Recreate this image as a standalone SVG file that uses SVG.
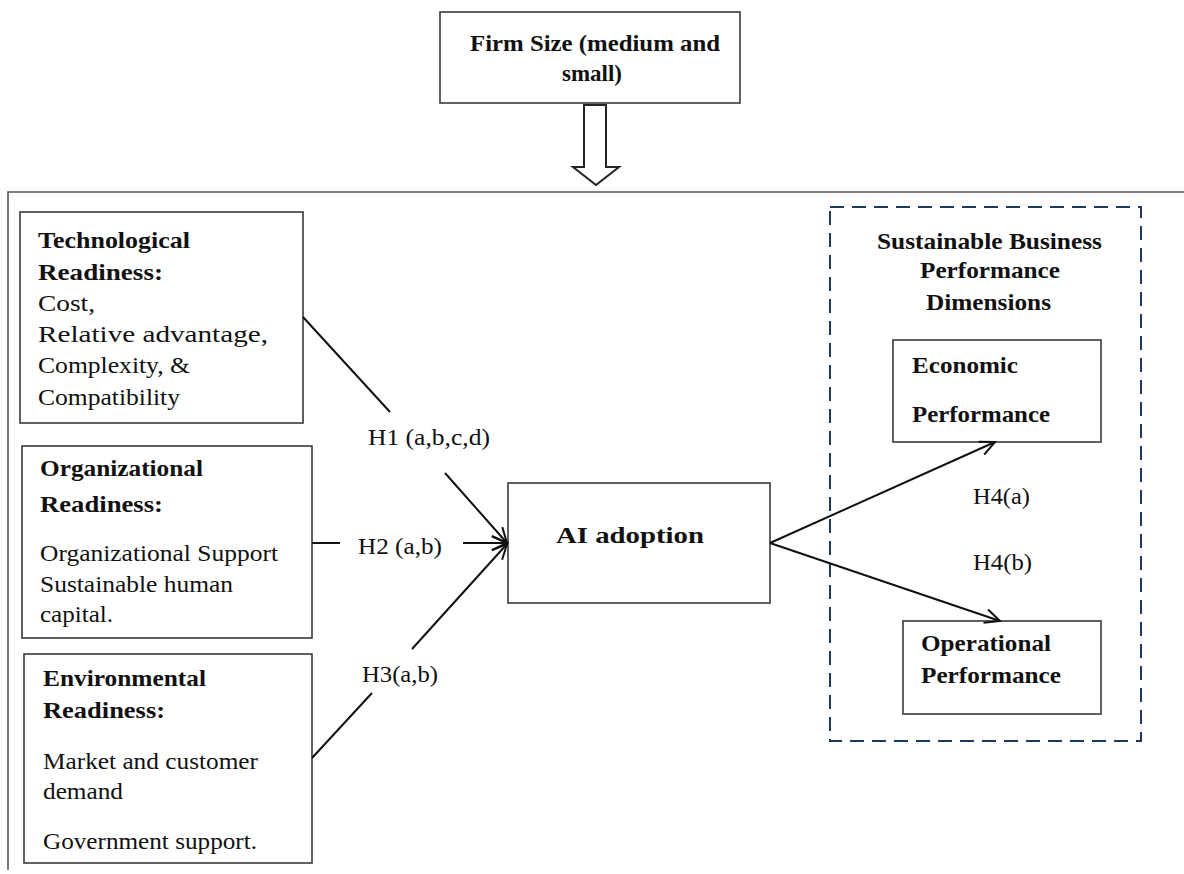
<svg xmlns="http://www.w3.org/2000/svg" width="1184" height="874" viewBox="0 0 1184 874">
<defs>
<style>
.box{fill:#fff;stroke:#3a3a3a;stroke-width:1.6}
.t{font-family:"Liberation Serif","Times New Roman",serif;font-size:23px;fill:#111}
.b{font-weight:bold}
.ln{stroke:#111;stroke-width:2;fill:none}
</style>
<marker id="arr" markerUnits="userSpaceOnUse" markerWidth="20" markerHeight="20" refX="16" refY="8" orient="auto">
<path d="M1,1 L16,8 L1,15" fill="none" stroke="#111" stroke-width="2"/>
</marker>
</defs>
<rect width="1184" height="874" fill="#fff"/>
<g id="frame">
<path d="M8,870 L8,192 L1184,192" fill="none" stroke="#555" stroke-width="1.6"/>
</g>
<g id="firm-size">
<rect class="box" x="440" y="12" width="300" height="91"/>
<text class="t b" x="470" y="51" textLength="250" lengthAdjust="spacingAndGlyphs">Firm Size (medium and</text>
<text class="t b" x="562" y="81" textLength="60" lengthAdjust="spacingAndGlyphs">small)</text>
</g>
<g id="firm-arrow">
<polygon points="584,105 606,105 606,167 619,167 596,185 573,167 584,167" fill="#fff" stroke="#222" stroke-width="2"/>
</g>
<g id="tech">
<rect class="box" x="20" y="212" width="283" height="211"/>
<text class="t b" x="38" y="248" textLength="152" lengthAdjust="spacingAndGlyphs">Technological</text>
<text class="t b" x="38" y="280" textLength="125" lengthAdjust="spacingAndGlyphs">Readiness:</text>
<text class="t" x="38" y="311" textLength="57" lengthAdjust="spacingAndGlyphs">Cost,</text>
<text class="t" x="38" y="342" textLength="230" lengthAdjust="spacingAndGlyphs">Relative advantage,</text>
<text class="t" x="38" y="373" textLength="152" lengthAdjust="spacingAndGlyphs">Complexity, &amp;</text>
<text class="t" x="38" y="405" textLength="142" lengthAdjust="spacingAndGlyphs">Compatibility</text>
</g>
<g id="org">
<rect class="box" x="22" y="446" width="290" height="192"/>
<text class="t b" x="40" y="476" textLength="163" lengthAdjust="spacingAndGlyphs">Organizational</text>
<text class="t b" x="40" y="512" textLength="123" lengthAdjust="spacingAndGlyphs">Readiness:</text>
<text class="t" x="40" y="561" textLength="238" lengthAdjust="spacingAndGlyphs">Organizational Support</text>
<text class="t" x="40" y="592" textLength="193" lengthAdjust="spacingAndGlyphs">Sustainable human</text>
<text class="t" x="40" y="622" textLength="73" lengthAdjust="spacingAndGlyphs">capital.</text>
</g>
<g id="env">
<rect class="box" x="24" y="654" width="288" height="209"/>
<text class="t b" x="43" y="686" textLength="163" lengthAdjust="spacingAndGlyphs">Environmental</text>
<text class="t b" x="43" y="718" textLength="122" lengthAdjust="spacingAndGlyphs">Readiness:</text>
<text class="t" x="43" y="769" textLength="215" lengthAdjust="spacingAndGlyphs">Market and customer</text>
<text class="t" x="43" y="799" textLength="80" lengthAdjust="spacingAndGlyphs">demand</text>
<text class="t" x="43" y="849" textLength="214" lengthAdjust="spacingAndGlyphs">Government support.</text>
</g>
<g id="ai">
<rect class="box" x="508" y="483" width="262" height="120"/>
<text class="t b" x="556" y="543" textLength="148" lengthAdjust="spacingAndGlyphs">AI adoption</text>
</g>
<g id="sbp">
<rect x="830" y="207" width="311" height="534" fill="none" stroke="#1f3a5f" stroke-width="2" stroke-dasharray="14,8"/>
<text class="t b" x="877" y="249" textLength="225" lengthAdjust="spacingAndGlyphs">Sustainable Business</text>
<text class="t b" x="920" y="278" textLength="140" lengthAdjust="spacingAndGlyphs">Performance</text>
<text class="t b" x="926" y="310" textLength="125" lengthAdjust="spacingAndGlyphs">Dimensions</text>
</g>
<g id="econ">
<rect class="box" x="893" y="340" width="208" height="102"/>
<text class="t b" x="912" y="373" textLength="106" lengthAdjust="spacingAndGlyphs">Economic</text>
<text class="t b" x="912" y="422" textLength="138" lengthAdjust="spacingAndGlyphs">Performance</text>
</g>
<g id="oper">
<rect class="box" x="903" y="621" width="198" height="93"/>
<text class="t b" x="921" y="651" textLength="130" lengthAdjust="spacingAndGlyphs">Operational</text>
<text class="t b" x="921" y="683" textLength="140" lengthAdjust="spacingAndGlyphs">Performance</text>
</g>
<g id="connectors">
<line class="ln" x1="303" y1="317" x2="390" y2="412"/>
<line class="ln" x1="445" y1="473" x2="507" y2="543" marker-end="url(#arr)"/>
<line class="ln" x1="312" y1="543" x2="340" y2="543"/>
<line class="ln" x1="463" y1="543" x2="507" y2="543" marker-end="url(#arr)"/>
<line class="ln" x1="312" y1="758" x2="372" y2="693"/>
<line class="ln" x1="412" y1="649" x2="507" y2="544" marker-end="url(#arr)"/>
<line class="ln" x1="770" y1="543" x2="995" y2="442" marker-end="url(#arr)"/>
<line class="ln" x1="770" y1="543" x2="1000" y2="621" marker-end="url(#arr)"/>
<text class="t" x="368" y="445" textLength="122" lengthAdjust="spacingAndGlyphs">H1 (a,b,c,d)</text>
<text class="t" x="358" y="554" textLength="84" lengthAdjust="spacingAndGlyphs">H2 (a,b)</text>
<text class="t" x="362" y="682" textLength="76" lengthAdjust="spacingAndGlyphs">H3(a,b)</text>
<text class="t" x="973" y="504" textLength="57" lengthAdjust="spacingAndGlyphs">H4(a)</text>
<text class="t" x="973" y="570" textLength="59" lengthAdjust="spacingAndGlyphs">H4(b)</text>
</g>
</svg>
